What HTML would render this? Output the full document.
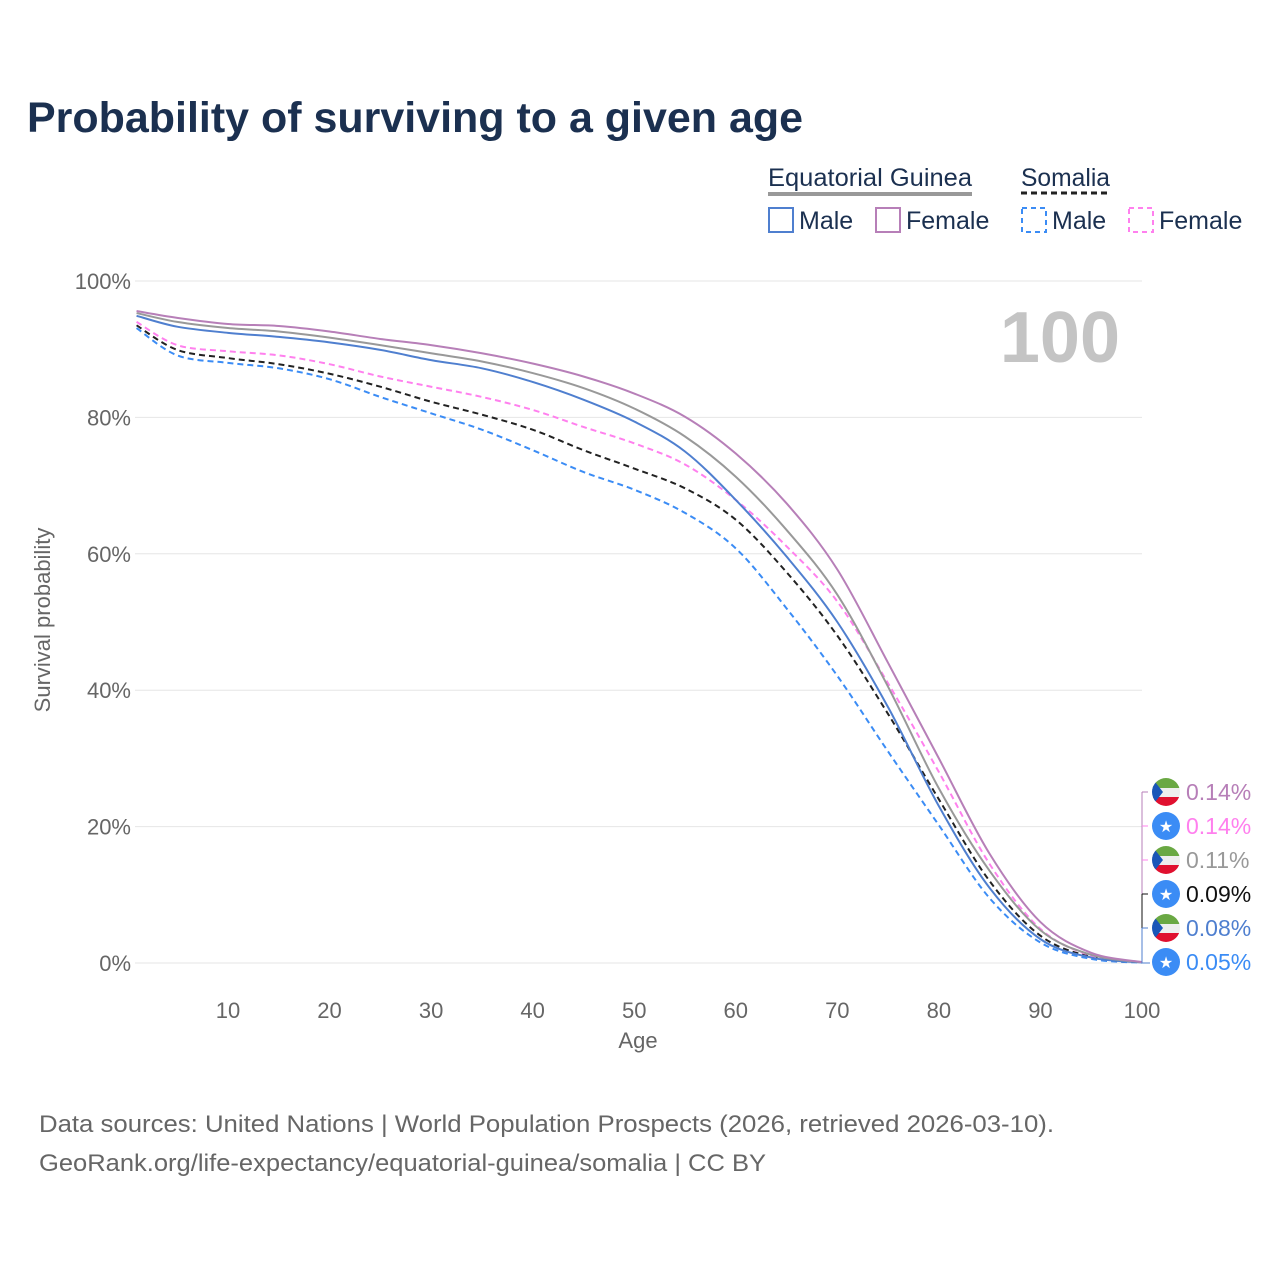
<!DOCTYPE html>
<html><head><meta charset="utf-8"><style>
body{margin:0;background:#fff;font-family:"Liberation Sans",sans-serif}
svg text{font-family:"Liberation Sans",sans-serif}
</style></head><body>
<svg id="c" width="1280" height="1280" viewBox="0 0 1280 1280" xmlns="http://www.w3.org/2000/svg">
<text x="27" y="132" font-size="43" font-weight="bold" fill="#1b3050" textLength="776" lengthAdjust="spacingAndGlyphs">Probability of surviving to a given age</text>
<g>
<text x="768" y="186" font-size="25" fill="#1b3050" textLength="204" lengthAdjust="spacingAndGlyphs">Equatorial Guinea</text>
<line x1="768" y1="194" x2="972" y2="194" stroke="#999" stroke-width="4"/>
<text x="1021" y="186" font-size="25" fill="#1b3050" textLength="89" lengthAdjust="spacingAndGlyphs">Somalia</text>
<line x1="1021" y1="193" x2="1110" y2="193" stroke="#222" stroke-width="3" stroke-dasharray="6,4"/>
<rect x="769" y="208" width="24" height="24" fill="none" stroke="#4f7fcf" stroke-width="2"/>
<text x="799" y="229" font-size="25" fill="#1b3050">Male</text>
<rect x="876" y="208" width="24" height="24" fill="none" stroke="#b77fb8" stroke-width="2"/>
<text x="906" y="229" font-size="25" fill="#1b3050">Female</text>
<rect x="1022" y="208" width="24" height="24" fill="none" stroke="#3b8cf5" stroke-width="2" stroke-dasharray="5,4"/>
<text x="1052" y="229" font-size="25" fill="#1b3050">Male</text>
<rect x="1129" y="208" width="24" height="24" fill="none" stroke="#ff80ee" stroke-width="2" stroke-dasharray="5,4"/>
<text x="1159" y="229" font-size="25" fill="#1b3050">Female</text>
</g>
<g id="grid"></g>
<text x="1120" y="362" font-size="72" font-weight="bold" fill="#c4c4c4" text-anchor="end">100</text>
<g id="series"></g>
<g id="labels"></g>
<text x="638" y="1048" font-size="22" fill="#666" text-anchor="middle">Age</text>
<text transform="translate(50,620) rotate(-90)" font-size="22" fill="#666" text-anchor="middle">Survival probability</text>
<text x="39" y="1132" font-size="24" fill="#666" textLength="1015" lengthAdjust="spacingAndGlyphs">Data sources: United Nations | World Population Prospects (2026, retrieved 2026-03-10).</text>
<text x="39" y="1171" font-size="24" fill="#666" textLength="727" lengthAdjust="spacingAndGlyphs">GeoRank.org/life-expectancy/equatorial-guinea/somalia | CC BY</text>
</svg>
<script>
const ages=[1,5,10,15,20,25,30,35,40,45,50,55,60,65,70,75,80,85,90,95,100];
const egFemale=[95.6,94.6,93.7,93.4,92.6,91.5,90.6,89.4,87.9,86,83.5,80.1,74.7,67.4,57.7,44,30,16,6,1.5,0.14];
const egTotal=[95.3,94,93.1,92.6,91.7,90.6,89.4,88.2,86.5,84.3,81.3,77.2,71.3,63.5,54,40.5,25.6,13.5,4.8,1.2,0.11];
const egMale=[94.9,93.3,92.4,91.8,91,89.9,88.4,87.2,85.2,82.6,79.4,75,67.9,59.6,50,37.5,23,11,3.5,0.8,0.08];
const soFemale=[94,90.6,89.7,89.1,87.8,86,84.5,83,81.1,78.6,76.2,73.1,67.9,61.1,53,41,28,14.5,5,1.1,0.14];
const soTotal=[93.5,89.9,88.7,87.8,86.4,84.5,82.3,80.4,78.2,75.2,72.5,69.6,65,57.3,48,36.5,24,12,4,0.9,0.09];
const soMale=[93.1,89.1,88,87.2,85.6,83,80.6,78.2,75.2,72,69.4,66,60.8,52,42.1,31,20.2,9.5,3,0.6,0.05];
const xTicks=[10,20,30,40,50,60,70,80,90,100];
const yTicks=[0,20,40,60,80,100];
const endLabels=["0.14%","0.14%","0.11%","0.09%","0.08%","0.05%"];
const NS="http://www.w3.org/2000/svg";
const X=a=>126.4+(a)*10.156;
const Y=v=>963-v*6.82;
function mk(t,attrs,p){const e=document.createElementNS(NS,t);for(const k in attrs)e.setAttribute(k,attrs[k]);p.appendChild(e);return e;}
const grid=document.getElementById('grid');
yTicks.forEach(v=>{
 const l=mk('line',{x1:135,x2:1142,y1:Y(v),y2:Y(v),stroke:'#e6e6e6','stroke-width':1},grid);
 
 
 const t=mk('text',{x:131,y:Y(v)+8,'font-size':22,fill:'#666','text-anchor':'end'},grid);
 t.textContent=v+'%';
 
 
});
xTicks.forEach(v=>{
 const t=mk('text',{x:X(v),y:1018,'font-size':22,fill:'#666','text-anchor':'middle'},grid);
 t.textContent=v;
 
 
});
function path(vals){
 const p=ages.map((a,i)=>[X(a),Y(vals[i])]);
 let d='M'+p[0][0]+','+p[0][1];
 for(let i=0;i<p.length-1;i++){
  const p0=p[i-1]||p[i],p1=p[i],p2=p[i+1],p3=p[i+2]||p2;
  const c1=[p1[0]+(p2[0]-p0[0])/6,p1[1]+(p2[1]-p0[1])/6];
  const c2=[p2[0]-(p3[0]-p1[0])/6,p2[1]-(p3[1]-p1[1])/6];
  d+=`C${c1[0]},${c1[1]} ${c2[0]},${c2[1]} ${p2[0]},${p2[1]}`;
 }
 return d;
}
const series=document.getElementById('series');
const defs=[[soMale,'#3b8cf5',true,'line-somalia-male'],[soTotal,'#222',true,'line-somalia-total'],[soFemale,'#ff80ee',true,'line-somalia-female'],[egMale,'#4f7fcf',false,'line-eq-guinea-male'],[egTotal,'#999',false,'line-eq-guinea-total'],[egFemale,'#b77fb8',false,'line-eq-guinea-female']];
defs.forEach(([v,c,dash,n])=>{
 const e=mk('path',{d:path(v),fill:'none',stroke:c,'stroke-width':2},series);
 if(dash)e.setAttribute('stroke-dasharray','6,4');
 
 
});
const labels=document.getElementById('labels');
const lc=['#b77fb8','#ff80ee','#999','#111','#4f7fcf','#3b8cf5'];
const flagEG=[true,false,true,false,true,false];
const ly=[792,826,860,894,928,962];
mk('path',{d:'M1142,792H1148M1142,792V963',stroke:'#b77fb8',fill:'none'},labels);
mk('path',{d:'M1142,826H1148M1142,860H1148',stroke:'#ff80ee',fill:'none'},labels);
mk('path',{d:'M1142,894H1148V894M1142,894V928',stroke:'#111',fill:'none'},labels);
mk('path',{d:'M1142,928H1148M1142,928V963H1150',stroke:'#4f7fcf',fill:'none'},labels);
endLabels.forEach((s,i)=>{
 const y=ly[i];
 const g=mk('g',{},labels);
 
 
 if(flagEG[i]){
  mk('clipPath',{id:'cp'+i},g).appendChild(document.createElementNS(NS,'circle'));
  const cc=g.querySelector('clipPath circle');cc.setAttribute('cx',1166);cc.setAttribute('cy',y);cc.setAttribute('r',14);
  const f=mk('g',{'clip-path':`url(#cp${i})`},g);
  mk('rect',{x:1152,y:y-14,width:28,height:10,fill:'#6aa843'},f);
  mk('rect',{x:1152,y:y-4,width:28,height:9,fill:'#eee'},f);
  mk('rect',{x:1152,y:y+5,width:28,height:10,fill:'#e0102f'},f);
  mk('polygon',{points:`1152,${y-14} 1163,${y} 1152,${y+14}`,fill:'#1a56b8'},f);
 } else {
  mk('circle',{cx:1166,cy:y,r:14,fill:'#3b8cf5'},g);
  const st=mk('text',{x:1166,y:y+6,'font-size':16,fill:'#fff','text-anchor':'middle'},g);st.textContent='★';
 }
 const t=mk('text',{x:1186,y:y+8,'font-size':23,fill:lc[i]},g);
 t.textContent=s;
});
</script>
</body></html>
